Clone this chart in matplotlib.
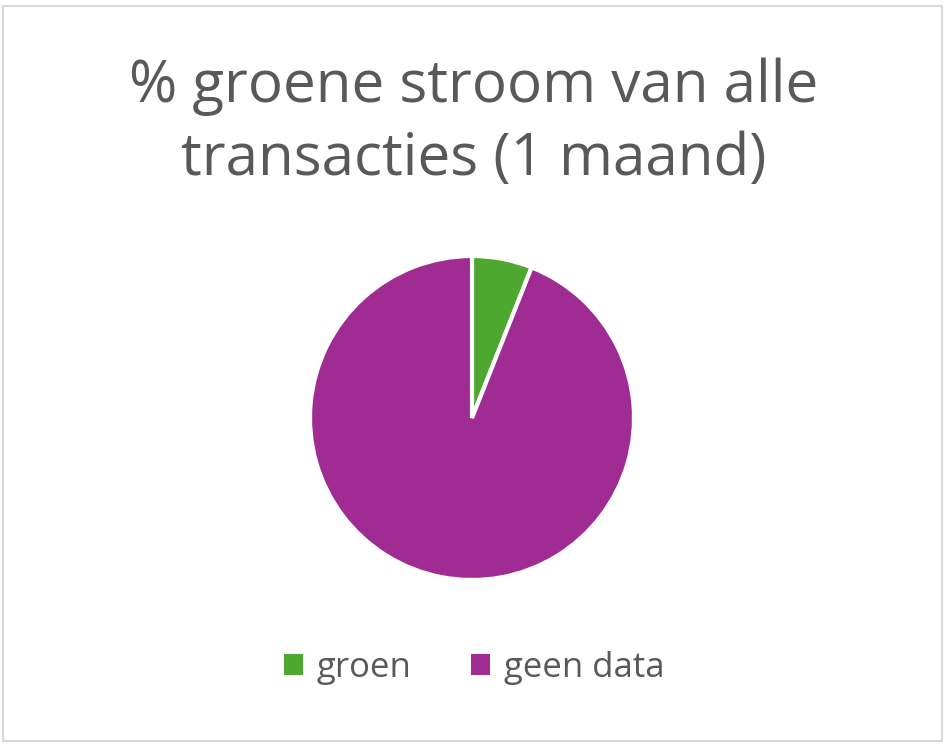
import matplotlib
matplotlib.use("Agg")
from matplotlib import pyplot as plt
from matplotlib.patches import Rectangle

# data
labels = ["groen", "geen data"]
values = [6, 94]
colors = ["#4EA72E", "#A02B93"]

title = "% groene stroom van alle\ntransacties (1 maand)"

plt.rcParams['font.family'] = ['Open Sans', 'DejaVu Sans']

fig = plt.figure(figsize=(9.48, 7.47), dpi=100)

# outer frame like the office chart area
fig.patches.append(Rectangle((3 / 948, 6 / 747), 939 / 948, 735 / 747,
                             transform=fig.transFigure, fill=False,
                             edgecolor="#D9D9D9", linewidth=1.5))

fig.text(0.5, 1 - 123 / 747, title, ha="center", va="center", fontsize=42,
         color="#595959", linespacing=1.32)

r = 162
cx, cy = 472, 747 - 418
ax = fig.add_axes([(cx - r) / 948, (cy - r) / 747, 2 * r / 948, 2 * r / 747])
wedges, _ = ax.pie(values, colors=colors, startangle=90, counterclock=False,
                   radius=1.0, wedgeprops=dict(edgecolor="white", linewidth=3))
ax.set_xlim(-1, 1)
ax.set_ylim(-1, 1)
ax.set_aspect("equal")
ax.axis("off")

leg = fig.legend(wedges, labels, loc="center", bbox_to_anchor=(0.5, 1 - 668 / 747),
                 ncol=2, frameon=False, fontsize=25, labelcolor="#595959",
                 handlelength=0.55, handleheight=0.55, handletextpad=0.4,
                 columnspacing=1.7)
for h in leg.legend_handles:
    h.set_linewidth(0)

fig.savefig("out.png", dpi=100)
